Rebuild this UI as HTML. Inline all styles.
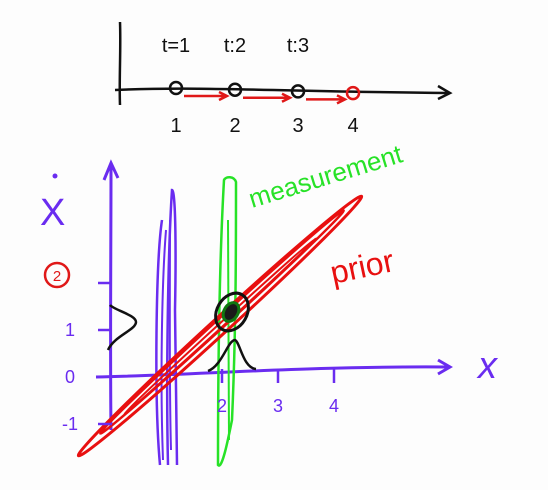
<!DOCTYPE html>
<html><head><meta charset="utf-8"><style>
html,body{margin:0;padding:0;background:#fff;width:548px;height:490px;overflow:hidden}
svg{display:block}
text{font-family:"Liberation Sans",sans-serif}
</style></head><body>
<svg id="c" width="548" height="490" viewBox="0 0 548 490">
<rect x="0" y="0" width="548" height="490" fill="#fdfdfd"/>
<g id="timeline">
<path d="M120,22 C121,50 119,80 120,105" stroke="#111" stroke-width="2.5" fill="none"/>
<path d="M115,90 C200,86 300,92 448,93 M438,86 L450,93 L438,99" stroke="#111" stroke-width="2.5" fill="none"/>
</g>
<g id="plot">
<path d="M111,430 C110,350 111,250 111,165 M104,180 L111,163 L118,178" stroke="#6a2cf0" stroke-width="3" fill="none"/>
<path d="M96,377 C200,375 300,366 448,367 M438,360 L450,367 L438,374" stroke="#6a2cf0" stroke-width="3" fill="none"/>
<text x="40" y="225" font-size="38" fill="#6a2cf0">X</text>
<circle cx="55" cy="176" r="2.5" fill="#6a2cf0"/>
<text x="478" y="378" font-size="38" fill="#6a2cf0" font-style="italic">x</text>
<circle cx="57" cy="275" r="12" stroke="#e01818" stroke-width="2.5" fill="none"/>
<text x="57" y="281" font-size="15" fill="#e01818" text-anchor="middle">2</text>
<g id="blue" fill="none" stroke="#6a2cf0">
<path d="M160,465 C154,400 156,260 162,220 M168,465 C166,380 168,250 172,190 C176,190 176,260 175,310 L177,465" stroke-width="2.5"/>
<path d="M163,460 C160,380 162,280 166,230 M171,450 C169,380 170,280 170,220" stroke-width="2"/>
</g>
<g id="green">
<path d="M224,180 C220,250 218,350 218,465 C222,470 228,440 232,420 C236,330 236,250 236,182 C234,176 226,176 224,180 Z" stroke="#27e227" stroke-width="2.5" fill="none"/>
<path d="M228,220 L229,440" stroke="#27e227" stroke-width="2"/>
</g>
<text x="252" y="208" font-size="26" fill="#27e227" transform="rotate(-17 252 208)">measurement</text>
<g id="red" fill="none" stroke="#e81010">
<ellipse cx="220" cy="326" rx="192" ry="8" transform="rotate(-42.5 220 326)" stroke-width="3"/>
<ellipse cx="222" cy="322" rx="165" ry="4.5" transform="rotate(-42.5 222 322)" stroke-width="2.5"/>
<ellipse cx="220" cy="326" rx="130" ry="2" transform="rotate(-42.5 220 326)" stroke-width="2"/>
</g>
<text x="333" y="284" font-size="32" fill="#e81010" transform="rotate(-12 333 284)">prior</text>
<g>
<ellipse cx="232" cy="312" rx="15" ry="20" transform="rotate(30 232 312)" stroke="#111" stroke-width="3" fill="none"/>
<ellipse cx="231" cy="312" rx="7" ry="10" transform="rotate(30 231 312)" stroke="#117711" stroke-width="3" fill="#1a1a1a"/>
</g>
<path d="M110,305 C114,310 136,315 136,322 C136,330 114,336 108,350" stroke="#111" stroke-width="2.5" fill="none"/>
<path d="M208,371 C222,366 228,340 235,340 C240,342 243,368 256,369" stroke="#111" stroke-width="2.5" fill="none"/>
</g>
<script>
var timeSteps=[1,2,3,4];
var timeLabels=["t=1","t:2","t:3"];
var stepX=[176,235,298,353];
var xTicks=[2,3,4];
var yTicks=[-1,0,1,2];
var NS="http://www.w3.org/2000/svg";
var svg=document.getElementById('c');
function tx(v){return stepX[timeSteps.indexOf(v)];}
function ty(v){return 88+(v-1)*1.7;}
function px(v){return 110+v*56;}
function py(v){return 377-v*47;}
function mk(t,a,p){var e=document.createElementNS(NS,t);for(var k in a)e.setAttribute(k,a[k]);(p||svg).appendChild(e);return e;}
var tl=document.getElementById('timeline');
timeSteps.forEach(function(s,i){
  var c=mk('circle',{cx:tx(s),cy:ty(s),r:6,fill:'none',stroke:i==3?'#e01818':'#111','stroke-width':2.5},tl);
  
  
  var t=mk('text',{x:tx(s),y:132,'font-size':20,'text-anchor':'middle',fill:'#111'},tl);t.textContent=s;
  
  
  if(i<3){
    var lb=mk('text',{x:tx(s),y:52,'font-size':20,'text-anchor':'middle',fill:'#111'},tl);lb.textContent=timeLabels[i];
    
    
    var x1=tx(s)+8,x2=tx(timeSteps[i+1])-8,y=ty(s)+8;
    var a=mk('path',{d:'M'+x1+','+y+' L'+x2+','+y+' M'+(x2-8)+','+(y-4)+' L'+x2+','+y+' L'+(x2-8)+','+(y+4),stroke:'#e01818','stroke-width':2.5,fill:'none'},tl);
    
    
  }
});
var pl=document.getElementById('plot');
xTicks.forEach(function(v){
  var l=mk('line',{x1:px(v),y1:py(0)-8,x2:px(v),y2:py(0)+6,stroke:'#6a2cf0','stroke-width':2.5},pl);
  
  
  var t=mk('text',{x:px(v),y:py(0)+35,'font-size':18,'text-anchor':'middle',fill:'#6a2cf0'},pl);t.textContent=v;
  
  
});
yTicks.forEach(function(v){
  if(v!==0){
    var l=mk('line',{x1:px(0)-12,y1:py(v),x2:px(0)+2,y2:py(v),stroke:'#6a2cf0','stroke-width':2.5},pl);
    
    
  }
  if(v<2){
    var t=mk('text',{x:px(0)-40,y:py(v)+6,'font-size':18,'text-anchor':'middle',fill:'#6a2cf0'},pl);t.textContent=v;
    
    
  }
});
</script>
</svg>
</body></html>
